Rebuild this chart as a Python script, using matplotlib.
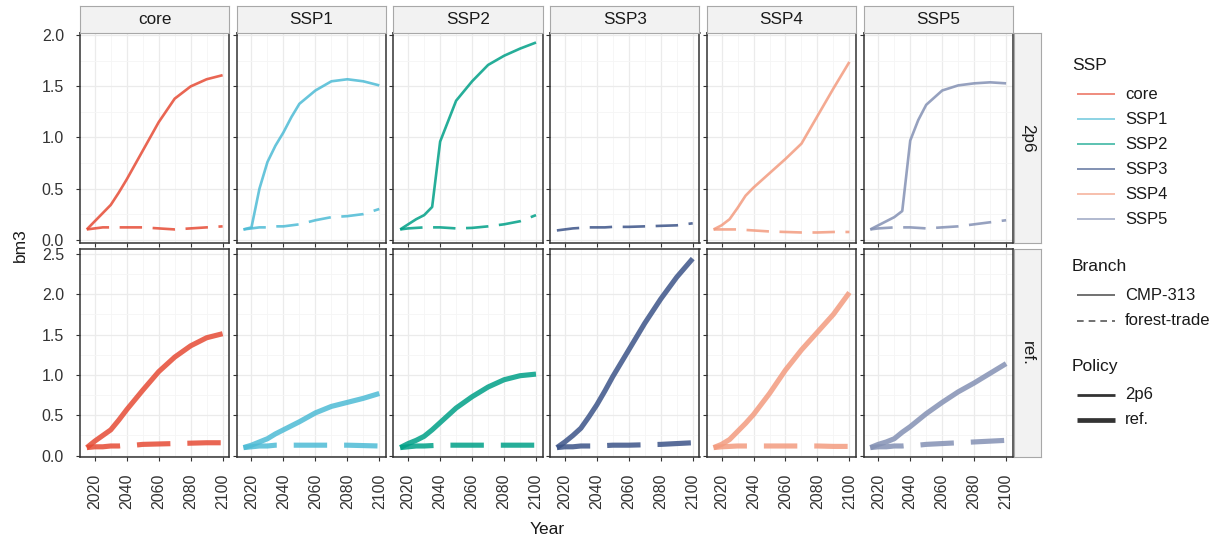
import numpy as np
import matplotlib
matplotlib.use("Agg")
import matplotlib.pyplot as plt
from matplotlib.lines import Line2D

plt.rcParams['font.family'] = ['Liberation Sans', 'DejaVu Sans']

# ---- data (bm3) ----
years = [2015, 2020, 2025, 2030, 2035, 2040, 2045, 2050, 2060, 2070, 2080, 2090, 2100]
ssps = ['core', 'SSP1', 'SSP2', 'SSP3', 'SSP4', 'SSP5']
policies = ['2p6', 'ref.']
branches = ['CMP-313', 'forest-trade']
ssp_colors = ['#E64B35', '#4DBBD5', '#00A087', '#3C5488', '#F39B7F', '#8491B4']

# policy 2p6
core_2p6_cmp = [0.10, 0.18, 0.26, 0.34, 0.46, 0.59, 0.73, 0.87, 1.15, 1.38, 1.50, 1.57, 1.61]
core_2p6_ft = [0.10, 0.11, 0.12, 0.12, 0.12, 0.12, 0.12, 0.12, 0.11, 0.10, 0.11, 0.12, 0.13]
ssp1_2p6_cmp = [0.10, 0.12, 0.50, 0.76, 0.92, 1.05, 1.20, 1.33, 1.46, 1.55, 1.57, 1.55, 1.51]
ssp1_2p6_ft = [0.10, 0.11, 0.12, 0.12, 0.13, 0.13, 0.14, 0.15, 0.19, 0.22, 0.23, 0.25, 0.30]
ssp2_2p6_cmp = [0.10, 0.15, 0.20, 0.24, 0.32, 0.96, 1.16, 1.36, 1.55, 1.71, 1.80, 1.87, 1.93]
ssp2_2p6_ft = [0.10, 0.11, 0.115, 0.12, 0.12, 0.12, 0.115, 0.11, 0.115, 0.13, 0.15, 0.18, 0.24]
ssp3_2p6_cmp = None
ssp3_2p6_ft = [0.09, 0.10, 0.11, 0.115, 0.12, 0.12, 0.12, 0.125, 0.125, 0.13, 0.135, 0.14, 0.16]
ssp4_2p6_cmp = [0.10, 0.14, 0.20, 0.31, 0.43, 0.51, 0.58, 0.65, 0.79, 0.94, 1.21, 1.48, 1.74]
ssp4_2p6_ft = [0.10, 0.10, 0.10, 0.10, 0.095, 0.09, 0.085, 0.08, 0.075, 0.07, 0.07, 0.075, 0.075]
ssp5_2p6_cmp = [0.10, 0.14, 0.18, 0.22, 0.28, 0.97, 1.17, 1.32, 1.46, 1.51, 1.53, 1.54, 1.53]
ssp5_2p6_ft = [0.10, 0.11, 0.115, 0.12, 0.12, 0.12, 0.115, 0.11, 0.12, 0.13, 0.15, 0.17, 0.19]

# policy ref.
core_ref_cmp = [0.10, 0.18, 0.25, 0.32, 0.44, 0.57, 0.69, 0.81, 1.04, 1.22, 1.36, 1.46, 1.51]
core_ref_ft = [0.10, 0.11, 0.11, 0.12, 0.12, 0.13, 0.13, 0.14, 0.145, 0.15, 0.155, 0.16, 0.16]
ssp1_ref_cmp = [0.10, 0.13, 0.17, 0.21, 0.27, 0.32, 0.37, 0.42, 0.53, 0.61, 0.66, 0.71, 0.77]
ssp1_ref_ft = [0.10, 0.11, 0.12, 0.12, 0.13, 0.13, 0.13, 0.13, 0.13, 0.13, 0.13, 0.125, 0.12]
ssp2_ref_cmp = [0.10, 0.15, 0.19, 0.24, 0.32, 0.41, 0.50, 0.59, 0.73, 0.85, 0.94, 0.99, 1.01]
ssp2_ref_ft = [0.10, 0.11, 0.12, 0.12, 0.125, 0.13, 0.13, 0.13, 0.13, 0.13, 0.13, 0.13, 0.13]
ssp3_ref_cmp = [0.10, 0.17, 0.25, 0.34, 0.48, 0.63, 0.80, 0.98, 1.31, 1.64, 1.94, 2.21, 2.44]
ssp3_ref_ft = [0.10, 0.11, 0.11, 0.12, 0.12, 0.12, 0.125, 0.13, 0.13, 0.135, 0.14, 0.15, 0.16]
ssp4_ref_cmp = [0.10, 0.14, 0.20, 0.30, 0.40, 0.51, 0.64, 0.77, 1.06, 1.31, 1.53, 1.75, 2.02]
ssp4_ref_ft = [0.10, 0.11, 0.115, 0.12, 0.12, 0.12, 0.12, 0.12, 0.12, 0.12, 0.12, 0.115, 0.115]
ssp5_ref_cmp = [0.10, 0.14, 0.17, 0.21, 0.29, 0.36, 0.44, 0.52, 0.66, 0.79, 0.90, 1.02, 1.14]
ssp5_ref_ft = [0.10, 0.11, 0.11, 0.12, 0.12, 0.13, 0.13, 0.14, 0.15, 0.16, 0.17, 0.18, 0.19]

series = {
    ('2p6', 'core'): (core_2p6_cmp, core_2p6_ft),
    ('2p6', 'SSP1'): (ssp1_2p6_cmp, ssp1_2p6_ft),
    ('2p6', 'SSP2'): (ssp2_2p6_cmp, ssp2_2p6_ft),
    ('2p6', 'SSP3'): (ssp3_2p6_cmp, ssp3_2p6_ft),
    ('2p6', 'SSP4'): (ssp4_2p6_cmp, ssp4_2p6_ft),
    ('2p6', 'SSP5'): (ssp5_2p6_cmp, ssp5_2p6_ft),
    ('ref.', 'core'): (core_ref_cmp, core_ref_ft),
    ('ref.', 'SSP1'): (ssp1_ref_cmp, ssp1_ref_ft),
    ('ref.', 'SSP2'): (ssp2_ref_cmp, ssp2_ref_ft),
    ('ref.', 'SSP3'): (ssp3_ref_cmp, ssp3_ref_ft),
    ('ref.', 'SSP4'): (ssp4_ref_cmp, ssp4_ref_ft),
    ('ref.', 'SSP5'): (ssp5_ref_cmp, ssp5_ref_ft),
}

# ---- layout (pixels) ----
W, H = 1217, 539
fig = plt.figure(figsize=(W / 100, H / 100), dpi=100)


def box(x0, y0, x1, y1):
    return [x0 / W, 1 - y1 / H, (x1 - x0) / W, (y1 - y0) / H]


col_left = [80 + i * 156.7 for i in range(6)]
panel_w = 149.4
rows = [(33.3, 242.7), (249.3, 457.3)]
ylims = [(-0.03, 2.02), (-0.02, 2.555)]
lws = {'2p6': 1.9, 'ref.': 3.7}
dash = {'2p6': (8.5, 4.0), 'ref.': (6.5, 3.3)}
alpha = 0.85
border = '#333333'
txt = '#333333'

for r, pol in enumerate(policies):
    y0, y1 = rows[r]
    for c, ssp in enumerate(ssps):
        x0 = col_left[c]
        ax = fig.add_axes(box(x0, y0, x0 + panel_w, y1))
        ax.set_xlim(2010.75, 2104.25)
        ax.set_ylim(*ylims[r])
        ax.set_xticks([2020, 2040, 2060, 2080, 2100])
        ax.set_xticks([2030, 2050, 2070, 2090], minor=True)
        top = 2.5 if r == 1 else 2.0
        ax.set_yticks(np.arange(0, top + 0.01, 0.5))
        ax.set_yticks(np.arange(0.25, top, 0.5), minor=True)
        ax.grid(True, which='major', color='#EBEBEB', lw=0.9)
        ax.grid(True, which='minor', color='#F5F5F5', lw=0.6)
        ax.set_axisbelow(True)
        for s in ax.spines.values():
            s.set_color(border)
            s.set_linewidth(1.1)
        ax.tick_params(which='major', length=3, width=0.8, color=border,
                       labelsize=11.5, labelcolor=txt, pad=8.5)
        ax.tick_params(which='minor', length=0)
        if c == 0:
            ax.set_yticklabels(['%.1f' % v for v in np.arange(0, top + 0.01, 0.5)])
        else:
            ax.tick_params(axis='y', labelleft=False)
        if r == 1:
            ax.set_xticklabels(['2020', '2040', '2060', '2080', '2100'], rotation=90)
        else:
            ax.tick_params(axis='x', labelbottom=False)

        cmp_vals, ft_vals = series[(pol, ssp)]
        col = ssp_colors[c]
        if ft_vals is not None:
            ax.plot(years, ft_vals, color=col, lw=lws[pol], alpha=alpha,
                    dashes=dash[pol], dash_capstyle='butt', solid_joinstyle='round')
        if cmp_vals is not None:
            ax.plot(years, cmp_vals, color=col, lw=lws[pol], alpha=alpha,
                    solid_capstyle='butt', solid_joinstyle='round')

        # column strip on top
        if r == 0:
            sax = fig.add_axes(box(x0, 6, x0 + panel_w, 33.3))
            sax.set_facecolor('#F2F2F2')
            sax.set_xticks([])
            sax.set_yticks([])
            for s in sax.spines.values():
                s.set_color('#A8A8A8')
                s.set_linewidth(0.8)
            sax.text(0.5, 0.5, ssp, ha='center', va='center', fontsize=12.3,
                     color='#1A1A1A', transform=sax.transAxes)

    # row strip on right
    rax = fig.add_axes(box(1014, y0, 1041, y1))
    rax.set_facecolor('#F2F2F2')
    rax.set_xticks([])
    rax.set_yticks([])
    for s in rax.spines.values():
        s.set_color('#A8A8A8')
        s.set_linewidth(0.8)
    rax.text(0.5, 0.5, pol, ha='center', va='center', rotation=-90,
             fontsize=12.3, color='#1A1A1A', transform=rax.transAxes)

# axis titles
fig.text(20 / W, 1 - 245 / H, 'bm3', rotation=90, ha='center', va='center',
         fontsize=12.5, color='#1A1A1A')
fig.text(547 / W, 1 - 529 / H, 'Year', ha='center', va='center',
         fontsize=12.5, color='#1A1A1A')


# ---- legends ----
def px(x, y):
    return x / W, 1 - y / H


def key_line(y, **kw):
    xa, ya = px(1076.7, y)
    xb, _ = px(1115, y)
    fig.add_artist(Line2D([xa, xb], [ya, ya], transform=fig.transFigure,
                          solid_capstyle='butt', dash_capstyle='butt', **kw))


def key_text(x, y, s, size=12):
    fx, fy = px(x, y)
    fig.text(fx, fy, s, ha='left', va='center', fontsize=size, color='#1A1A1A')


key_text(1071.7, 66, 'SSP', 12.5)
for i, (ssp, col) in enumerate(zip(ssps, ssp_colors)):
    yy = 94.3 + i * 25
    key_line(yy, color=col, lw=1.2, alpha=0.75)
    key_text(1125, yy, ssp)

key_text(1071.7, 266.7, 'Branch', 12.5)
key_line(295, color='#595959', lw=1.2)
key_text(1125, 295, branches[0])
key_line(320.5, color='#595959', lw=1.2, dashes=(4, 3))
key_text(1125, 320.5, branches[1])

key_text(1071.7, 366.7, 'Policy', 12.5)
key_line(395, color='#333333', lw=2.0)
key_text(1125, 395, policies[0])
key_line(420, color='#333333', lw=3.4)
key_text(1125, 420, policies[1])

fig.savefig('out.png', dpi=100, facecolor='white')
